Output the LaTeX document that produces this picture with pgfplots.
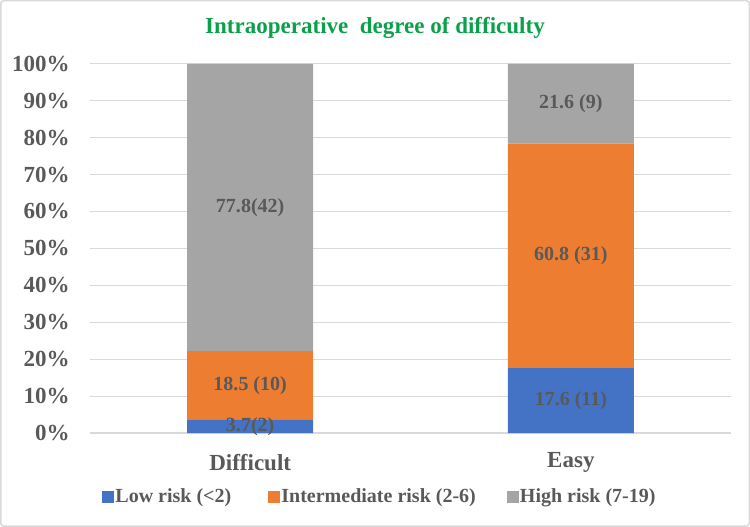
\documentclass[border=0pt]{standalone}
\usepackage{pgfplots}
\pgfplotsset{compat=1.18}
\usepackage{fontspec}
\setmainfont{Liberation Serif}
\definecolor{cblue}{HTML}{4472C4}
\definecolor{corange}{HTML}{ED7D31}
\definecolor{cgray}{HTML}{A5A5A5}
\definecolor{ctext}{HTML}{595959}
\definecolor{cgrid}{HTML}{D9D9D9}
\definecolor{ctitle}{HTML}{0BA14B}
\tikzset{dlab/.style={font=\fontsize{20}{22}\selectfont\bfseries, text=ctext}}
\begin{document}
\begin{tikzpicture}[x=1pt,y=1pt]
\draw[cgrid, line width=1.5pt, rounded corners=3pt] (1,1) rectangle (749,526);
\node[font=\fontsize{23}{26}\selectfont\bfseries, text=ctitle] at (375,499) {Intraoperative\ \ degree of difficulty};
\begin{axis}[
  at={(90pt,94pt)}, anchor=south west,
  scale only axis, width=641pt, height=369pt,
  ybar stacked, bar width=126pt,
  xmin=-0.5, xmax=1.5, ymin=0, ymax=100,
  xtick={0,1}, xticklabels={Difficult,Easy},
  ytick={0,10,...,100},
  yticklabel={\pgfmathprintnumber{\tick}\%},
  /pgf/number format/assume math mode=true,
  axis line style={draw=none},
  major tick length=0pt,
  ymajorgrids, grid style={cgrid, line width=1.2pt},
  tick label style={font=\fontsize{23}{25}\selectfont\bfseries, text=ctext},
  yticklabel style={anchor=east, inner sep=0pt, xshift=-20pt},
  xticklabel style={anchor=center, inner sep=0pt, yshift=-29pt},
  legend columns=3,
  legend style={at={(0.5,0)}, anchor=center, yshift=-63pt, xshift=-31pt, draw=none, fill=none,
    font=\fontsize{20}{22}\selectfont\bfseries, text=ctext,
    nodes={inner xsep=1pt},
    /tikz/column 2/.style={column sep=36pt},
    /tikz/column 4/.style={column sep=30pt}},
  legend image code/.code={\fill[#1, draw=none] (0pt,-6.5pt) rectangle (12pt,5.5pt);},
]
\addplot[fill=cblue, draw=none] coordinates {(0,3.7) (1,17.6)};
\addplot[fill=corange, draw=none] coordinates {(0,18.5) (1,60.8)};
\addplot[fill=cgray, draw=none] coordinates {(0,77.8) (1,21.6)};
\legend{Low risk (<2), Intermediate risk (2-6), High risk (7-19)}
\coordinate (l1) at (axis cs:0,1.85);
\coordinate (l2) at (axis cs:0,12.95);
\coordinate (l3) at (axis cs:0,61.1);
\coordinate (l4) at (axis cs:1,8.8);
\coordinate (l5) at (axis cs:1,48.0);
\coordinate (l6) at (axis cs:1,89.2);
\end{axis}
\node[dlab] at (l1) {3.7(2)};
\node[dlab] at (l2) {18.5 (10)};
\node[dlab] at (l3) {77.8(42)};
\node[dlab] at (l4) {17.6 (11)};
\node[dlab] at (l5) {60.8 (31)};
\node[dlab] at (l6) {21.6 (9)};
\end{tikzpicture}
\end{document}
